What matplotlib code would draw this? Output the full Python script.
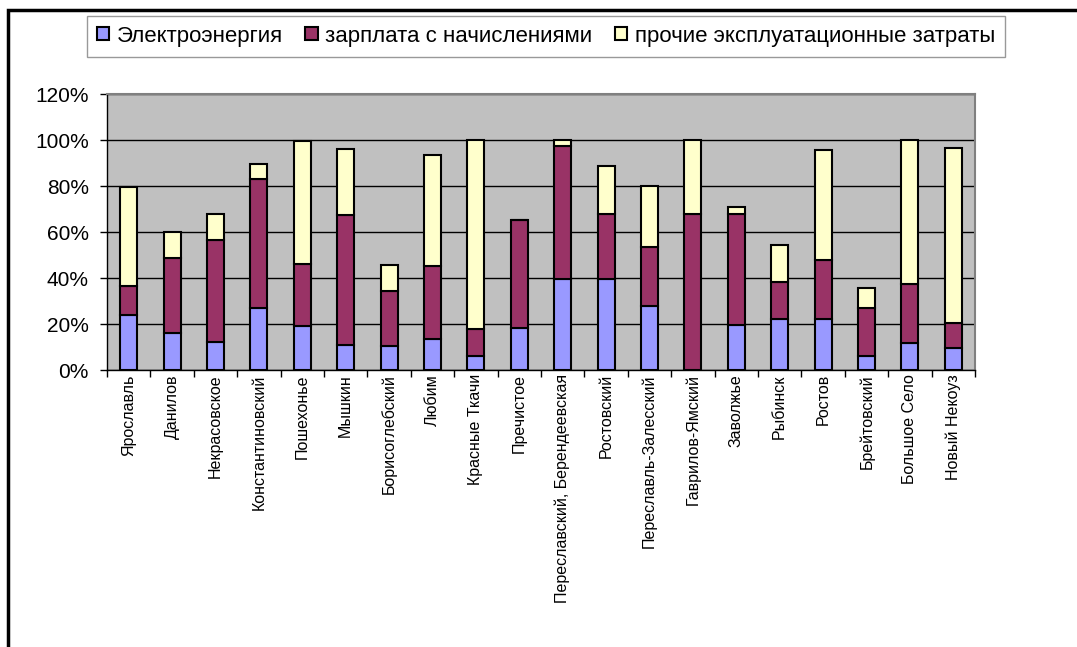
import matplotlib.pyplot as plt
import matplotlib.patches as mpatches
from matplotlib.ticker import PercentFormatter
import numpy as np

plt.rcParams["font.family"] = ["Liberation Sans", "DejaVu Sans"]

districts = ["Ярославль", "Данилов", "Некрасовское", "Константиновский", "Пошехонье",
             "Мышкин", "Борисоглебский", "Любим", "Красные Ткачи", "Пречистое",
             "Переславский, Берендеевская", "Ростовский", "Переславль-Залесский",
             "Гаврилов-Ямский", "Заволжье", "Рыбинск", "Ростов", "Брейтовский",
             "Большое Село", "Новый Некоуз"]

# shares, in %
electricity = [24, 16, 12, 27, 19, 11, 10.4, 13.5, 6.2, 18.3,
               39.6, 39.6, 27.8, 0, 19.7, 22.3, 22.3, 6.2, 11.7, 9.4]
salary = [12.5, 32.5, 44.5, 56, 27.3, 56.6, 23.9, 31.9, 11.5, 47.1,
          57.8, 28.2, 25.8, 67.8, 48.1, 16, 25.4, 20.8, 25.8, 11.2]
other = [43.2, 11.4, 11.3, 6.4, 53.4, 28.7, 11.2, 47.9, 82.3, 0,
         2.6, 20.8, 26.4, 32.2, 3.2, 15.9, 48.1, 8.8, 62.5, 75.9]

labels = ["Электроэнергия", "зарплата с начислениями", "прочие эксплуатационные затраты"]
colors = ["#9999FF", "#993366", "#FFFFCC"]

fig = plt.figure(figsize=(10.77, 6.47), dpi=100)
ax = fig.add_axes([107 / 1077, 1 - 370 / 647, 868 / 1077, 276 / 647])
ax.set_facecolor("#C0C0C0")

x = np.arange(len(districts))
e = np.array(electricity) / 100
s = np.array(salary) / 100
o = np.array(other) / 100
w = 0.39
h1 = ax.bar(x, e, w, color=colors[0], edgecolor="black", linewidth=1.5, zorder=3)
h2 = ax.bar(x, s, w, bottom=e, color=colors[1], edgecolor="black", linewidth=1.5, zorder=3)
h3 = ax.bar(x, o, w, bottom=e + s, color=colors[2], edgecolor="black", linewidth=1.5, zorder=3)

ax.set_xlim(-0.5, len(districts) - 0.5)
ax.set_ylim(0, 1.2)
ax.set_yticks(np.arange(0, 1.21, 0.2))
ax.yaxis.set_major_formatter(PercentFormatter(1.0, decimals=0))
ax.tick_params(axis="y", direction="out", length=5, width=1, labelsize=15, pad=8)
ax.grid(axis="y", color="black", linewidth=1, zorder=1)
ax.set_axisbelow(True)

ax.set_xticks(x)
ax.set_xticklabels(districts, rotation=90, fontsize=11.5, va="top")
ax.tick_params(axis="x", which="major", length=0, pad=3)
ax.set_xticks(np.arange(-0.5, len(districts), 1), minor=True)
ax.tick_params(axis="x", which="minor", direction="out", length=5, width=1)

for side in ["top", "right"]:
    ax.spines[side].set_color("#808080")
    ax.spines[side].set_linewidth(1.5)
for side in ["left", "bottom"]:
    ax.spines[side].set_color("black")
    ax.spines[side].set_linewidth(1)

fig.legend([h1, h2, h3], labels, loc="upper center", bbox_to_anchor=(0.507, 0.976),
           ncol=3, fontsize=16, frameon=True, fancybox=False, edgecolor="#808080",
           handlelength=0.55, handleheight=0.55, handletextpad=0.35, columnspacing=1.0,
           borderpad=0.45, borderaxespad=0)

border = mpatches.Rectangle((8 / 1077, -0.1), 1.2, 1 - 10 / 647 + 0.1, transform=fig.transFigure,
                            fill=False, edgecolor="black", linewidth=2.5, clip_on=False)
fig.patches.append(border)

fig.savefig("out.png", dpi=100)
